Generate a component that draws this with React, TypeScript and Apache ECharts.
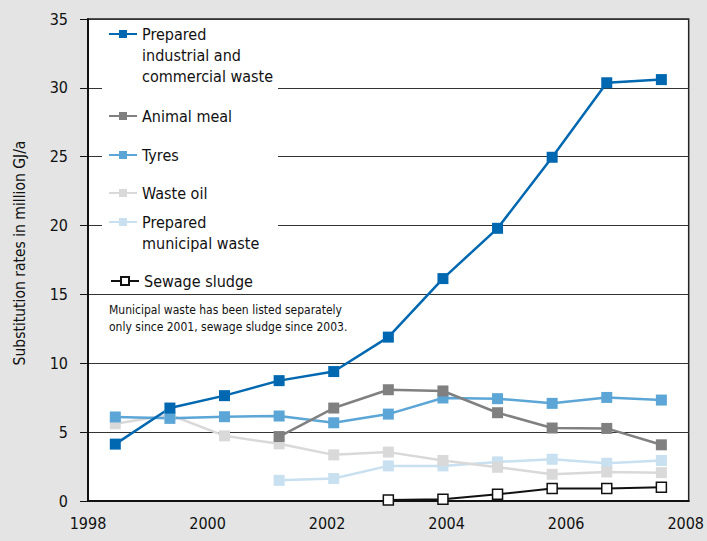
import React, { useEffect, useRef } from "react";
import * as echarts from "echarts";

const years = ["1998", "1999", "2000", "2001", "2002", "2003", "2004", "2005", "2006", "2007", "2008"];
const industrial = [4.13, 6.75, 7.65, 8.74, 9.4, 11.9, 16.15, 19.8, 24.96, 30.37, 30.6];
const animalMeal = [null, null, null, 4.68, 6.75, 8.08, 7.99, 6.41, 5.3, 5.27, 4.08];
const tyres = [6.1, 6.0, 6.12, 6.17, 5.68, 6.31, 7.48, 7.43, 7.09, 7.52, 7.33];
const wasteOil = [5.61, 6.26, 4.73, 4.15, 3.35, 3.55, 2.94, 2.45, 1.94, 2.11, 2.06];
const municipal = [null, null, null, 1.5, 1.63, 2.55, 2.55, 2.84, 3.03, 2.74, 2.94];
const sewage = [null, null, null, null, null, 0.07, 0.12, 0.49, 0.9, 0.9, 1.0];

const yTicks = { min: 0, max: 35, interval: 5 };
const xTicks = { min: 1998, max: 2008.05, interval: 2 };

const FONT = '"DejaVu Sans Condensed", "Liberation Sans Narrow", "Liberation Sans", sans-serif';

const names = {
  industrial: "Prepared\nindustrial and\ncommercial waste",
  animal: "Animal meal",
  tyres: "Tyres",
  oil: "Waste oil",
  municipal: "Prepared\nmunicipal waste",
  sewage: "Sewage sludge",
};

export default function App() {
  const ref = useRef<HTMLDivElement>(null);
  useEffect(() => {
    if (!ref.current) return;
    const chart = echarts.init(ref.current, undefined, { renderer: "svg" });
    const LH = 21;
    const mkLegend = (name: string, iconY: number, lines: number, left = 108) => {
      const blanks = lines - 1;
      const total = (lines + blanks) * LH;
      return {
        data: [name],
        orient: "vertical",
        left,
        top: iconY - total / 2,
        padding: 0,
        itemWidth: 28,
        itemHeight: 10,
        selectedMode: false,
        formatter: (n: string) => "\n".repeat(blanks) + n,
        textStyle: { fontFamily: FONT, fontSize: 16, color: "#111", lineHeight: LH },
        z: 6,
      };
    };
    const lineSeries = (name: string, data: (number | null)[], color: string, z = 2, extra: any = {}) => ({
      name,
      type: "line",
      xAxisIndex: 0,
      data,
      symbol: "rect",
      symbolSize: 11,
      connectNulls: false,
      z,
      lineStyle: { color, width: 2.5 },
      itemStyle: { color },
      emphasis: { disabled: true },
      ...extra,
    });
    chart.setOption({
      animation: false,
      backgroundColor: "#e3e4e3",
      textStyle: { fontFamily: FONT },
      grid: {
        left: 88,
        right: 16,
        top: 19,
        bottom: 40,
        show: true,
        backgroundColor: "#ffffff",
        borderColor: "#222",
        borderWidth: 1.5,
      },
      legend: [
        mkLegend(names.industrial, 34, 3),
        mkLegend(names.animal, 116, 1),
        mkLegend(names.tyres, 155, 1),
        mkLegend(names.oil, 193, 1),
        mkLegend(names.municipal, 222, 2),
        mkLegend(names.sewage, 281, 1, 110),
      ],
      graphic: [
        {
          type: "rect",
          shape: { x: 102, y: 26, width: 176, height: 262 },
          style: { fill: "#ffffff" },
          z: 3,
          silent: true,
        },
        {
          type: "text",
          left: 109,
          top: 302,
          z: 6,
          style: {
            text: "Municipal waste has been listed separately\nonly since 2001, sewage sludge since 2003.",
            font: `12px ${FONT}`,
            fill: "#111",
            lineHeight: 16.5,
          },
        },
      ],
      xAxis: [
        {
          type: "category",
          data: years,
          boundaryGap: true,
          show: false,
          position: "bottom",
        },
        {
          type: "value",
          position: "bottom",
          min: xTicks.min,
          max: xTicks.max,
          interval: xTicks.interval,
          axisLine: { show: true, lineStyle: { color: "#111", width: 2 } },
          axisTick: { show: false },
          splitLine: { show: false },
          axisLabel: {
            margin: 14,
            fontSize: 16,
            color: "#111",
            fontFamily: FONT,
            formatter: (v: number) => (Math.abs(v % 2) < 1e-9 ? String(v) : ""),
            showMaxLabel: true,
          },
        },
      ],
      yAxis: {
        type: "value",
        min: yTicks.min,
        max: yTicks.max,
        interval: yTicks.interval,
        name: "Substitution rates in million GJ/a",
        nameLocation: "middle",
        nameGap: 60,
        nameTextStyle: { fontSize: 15.5, color: "#111", fontFamily: FONT, padding: [0, 0, 0, 14] },
        axisLine: { show: true, onZero: false, lineStyle: { color: "#111", width: 2 } },
        axisTick: { show: true, length: 8, lineStyle: { color: "#111", width: 1 } },
        axisLabel: { margin: 20, fontSize: 16, color: "#111", fontFamily: FONT },
        splitLine: { show: true, lineStyle: { color: "#333", width: 1 } },
      },
      series: [
        lineSeries(names.sewage, sewage, "#111", 2, {
          symbolSize: 10,
          itemStyle: { color: "#ffffff", borderColor: "#111", borderWidth: 1.5 },
          lineStyle: { color: "#111", width: 2 },
        }),
        lineSeries(names.municipal, municipal, "#c8e0f0"),
        lineSeries(names.oil, wasteOil, "#d9d9d9"),
        lineSeries(names.tyres, tyres, "#5ba6d6"),
        lineSeries(names.animal, animalMeal, "#808080"),
        lineSeries(names.industrial, industrial, "#0068b0"),
      ],
    });
    return () => chart.dispose();
  }, []);
  return (
    <div
      ref={ref}
      style={{ position: "fixed", left: 0, top: 0, width: 707, height: 541 }}
    />
  );
}
